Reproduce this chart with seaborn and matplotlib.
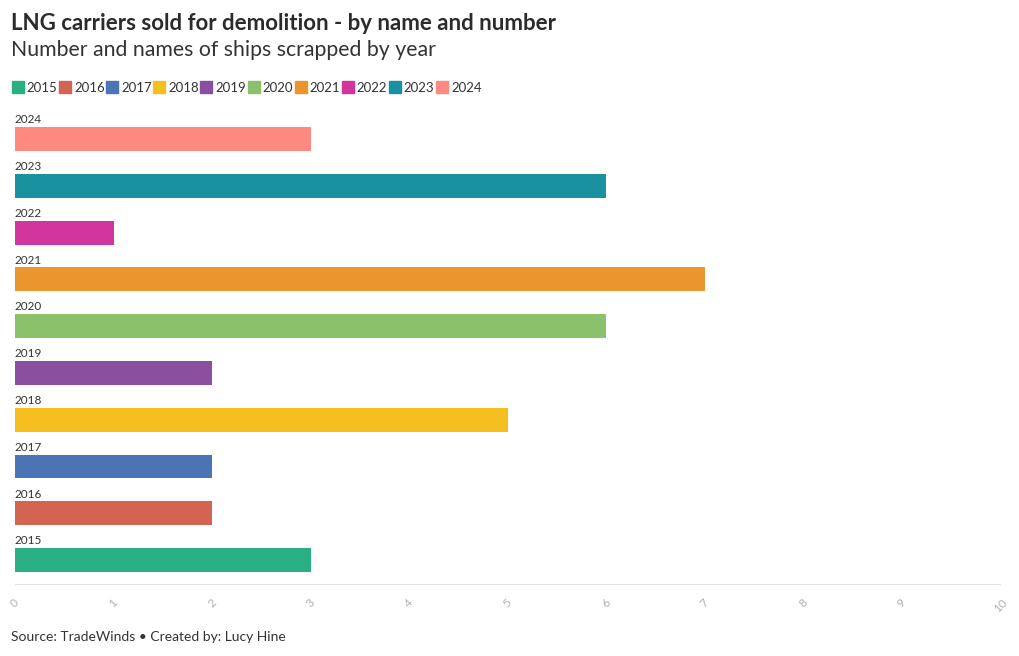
import matplotlib
matplotlib.use("Agg")
import matplotlib.pyplot as plt
from matplotlib.lines import Line2D
import seaborn as sns
import pandas as pd

# data
years = ["2015", "2016", "2017", "2018", "2019", "2020", "2021", "2022", "2023", "2024"]
ships = [3, 2, 2, 5, 2, 6, 7, 1, 6, 3]
colors = ["#2aaf85", "#d36452", "#4a74b4", "#f4bf1f", "#8a4f9e",
          "#8bc16a", "#eb952e", "#d3359f", "#19919f", "#fc8a80"]
xticks = list(range(0, 11))

df = pd.DataFrame({"year": years, "ships": ships})
order = years[::-1]
pal = dict(zip(years, colors))

sns.set_theme(style="white")
plt.rcParams["font.family"] = ["Lato", "DejaVu Sans"]

fig = plt.figure(figsize=(10.2, 6.56), dpi=100)
ax = fig.add_axes([15 / 1020, 1 - 584 / 656, 985 / 1020, 474 / 656])

sns.barplot(data=df, y="year", x="ships", hue="year", order=order,
            palette=pal, orient="h", width=0.51, legend=False, ax=ax,
            saturation=1, linewidth=0)

for i, y in enumerate(order):
    ax.text(0, i - 0.41, y, fontsize=8.5, color="#333333", va="center", ha="left")

ax.set_xlim(0, 10)
ax.set_ylim(9.51, -0.62)
ax.set_xticks(xticks)
ax.set_xticklabels([str(t) for t in xticks], rotation=45, fontsize=8.5,
                   color="#b0b0b0", ha="center", va="top")
ax.set_yticks([])
ax.set_xlabel("")
ax.set_ylabel("")
for s in ["top", "right", "left"]:
    ax.spines[s].set_visible(False)
ax.spines["bottom"].set_color("#e3e3e3")
ax.spines["bottom"].set_linewidth(0.8)
ax.tick_params(axis="x", length=5, width=0.8, color="#e3e3e3", pad=4)

fig.text(11 / 1020, 1 - 24 / 656, "LNG carriers sold for demolition - by name and number",
         fontsize=16, fontweight="bold", color="#2b2b2b", va="center", ha="left")
fig.text(11 / 1020, 1 - 50 / 656, "Number and names of ships scrapped by year",
         fontsize=15.3, color="#333333", va="center", ha="left")
fig.text(11 / 1020, 1 - 637 / 656, "Source: TradeWinds \u2022 Created by: Lucy Hine",
         fontsize=10, color="#333333", va="center", ha="left")

handles = [Line2D([], [], marker="s", linestyle="none", markersize=9,
                  markerfacecolor=c, markeredgecolor=c) for c in colors]
fig.legend(handles, years, loc="center left", bbox_to_anchor=(7 / 1020, 1 - 88 / 656),
           ncol=10, frameon=False, fontsize=9.5, handlelength=0.8, handletextpad=0.3,
           columnspacing=0.15, borderaxespad=0, labelcolor="#333333")

fig.savefig("out.png", dpi=100)
